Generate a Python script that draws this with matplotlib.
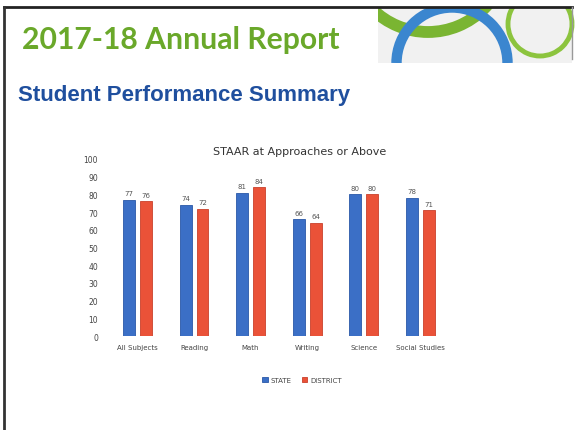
import numpy as np
import matplotlib
matplotlib.use('Agg')
import matplotlib.pyplot as plt
from matplotlib.patches import Rectangle, Arc

# Data
categories = ['All Subjects', 'Reading', 'Math', 'Writing', 'Science', 'Social Studies']
state = [77, 74, 81, 66, 80, 78]
district = [76, 72, 84, 64, 80, 71]
yticks = [0, 10, 20, 30, 40, 50, 60, 70, 80, 90, 100]

W, H = 575, 431
fig = plt.figure(figsize=(W / 100, H / 100), dpi=100)
fig.patch.set_facecolor('white')

# overlay axes in pixel coordinates for the slide decoration
deco = fig.add_axes([0, 0, 1, 1])
deco.set_xlim(0, W)
deco.set_ylim(H, 0)
deco.axis('off')

# soft gray background behind the rings
bg = Rectangle((378, 9), 194, 55, color='#f1f1f1', lw=0, zorder=0)
deco.add_patch(bg)
green_arc = Arc((428, -46), 158, 158, theta1=0, theta2=360, color='#7ab532', lw=8.5, zorder=1)
deco.add_patch(green_arc)
green_arc.set_clip_path(bg)
deco.add_patch(Arc((452, 64), 111, 111, theta1=180, theta2=360, color='#3b86cf', lw=7.5, zorder=2))
deco.add_patch(Arc((540, 25), 64, 64, theta1=0, theta2=360, color='#8cc43e', lw=3.5, zorder=2))
deco.add_patch(Rectangle((372, 0), 203, 8, color='white', lw=0, zorder=3))
deco.add_patch(Rectangle((372, 64), 203, 30, color='white', lw=0, zorder=3))

# slide frame
deco.plot([4, 572], [8, 8], color='#222222', lw=2, zorder=4)
deco.plot([4, 4], [8, H], color='#333333', lw=2, zorder=4)
deco.plot([572, 572], [8, 60], color='#999999', lw=1, zorder=4)

deco.text(22, 40, '2017-18 Annual Report', color='#6aa82a', fontsize=21.7,
          fontweight='bold', family='Lato', va='center', ha='left')
deco.text(18, 96, 'Student Performance Summary', color='#1f4f9e', fontsize=16,
          fontweight='bold', family='Liberation Sans', va='center', ha='left')

# the chart
ax = fig.add_axes([0.19, 0.218, 0.59, 0.411])
x = np.arange(len(categories))
w = 0.21
b1 = ax.bar(x - 0.15, state, w, color='#3b6fc6', edgecolor='#2a58a8', lw=0.6, label='STATE')
b2 = ax.bar(x + 0.15, district, w, color='#ea5238', edgecolor='#c9402b', lw=0.6, label='DISTRICT')
for bars in (b1, b2):
    for r in bars:
        ax.text(r.get_x() + r.get_width() / 2, r.get_height() + 2, str(int(r.get_height())),
                ha='center', va='bottom', fontsize=5, color='#555555')

ax.set_ylim(0, 100)
ax.set_xlim(-0.5, len(categories) - 0.5)
ax.set_yticks(yticks)
ax.set_yticklabels([str(t) for t in yticks], fontsize=5.5, color='#444444')
ax.set_xticks(x)
ax.set_xticklabels(categories, fontsize=5, color='#444444')
ax.tick_params(length=0)
ax.tick_params(axis='y', pad=8)
ax.tick_params(axis='x', pad=6)
for s in ax.spines.values():
    s.set_visible(False)

fig.text(300 / W, 1 - 152 / H, 'STAAR at Approaches or Above', ha='center', va='center',
         fontsize=8, color='#333333')
fig.legend(handles=[b1, b2], labels=['STATE', 'DISTRICT'], loc='center',
           bbox_to_anchor=(302 / W, 1 - 381 / H), ncol=2, frameon=False,
           fontsize=5, handlelength=0.8, handleheight=0.8, columnspacing=1.5,
           handletextpad=0.4, labelcolor='#444444')

fig.savefig('out.png', dpi=100)
